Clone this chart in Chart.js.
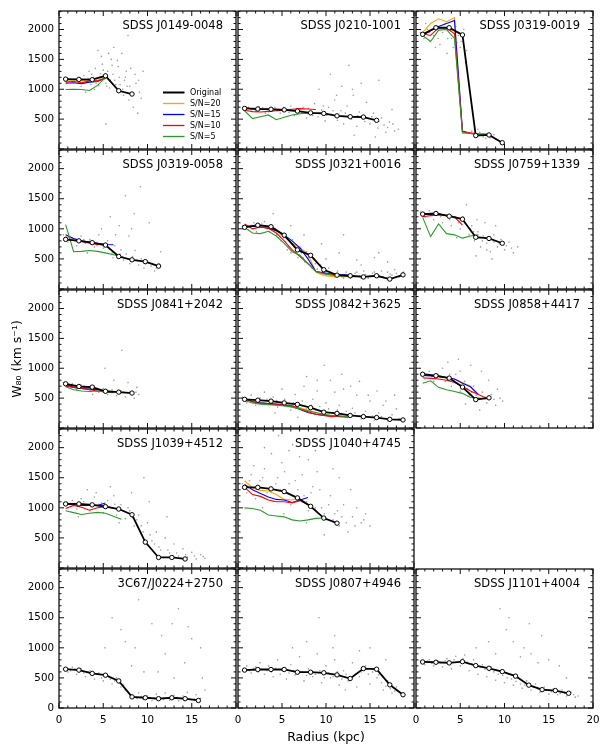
<!DOCTYPE html>
<html>
<head>
<meta charset="utf-8">
<script src="https://cdn.jsdelivr.net/npm/chart.js@4.4.1/dist/chart.umd.min.js"></script>
<style>
  html, body { margin: 0; padding: 0; background: #fff; }
  #page { position: relative; width: 600px; height: 750px; overflow: hidden; background: #fff; }
  #page canvas { position: absolute; }
</style>
</head>
<body>
<div id="page"></div>
<script>
// panel names, in reading order (row 4 / col 3 is empty)
const panelNames = [
  'SDSS J0149-0048', 'SDSS J0210-1001', 'SDSS J0319-0019',
  'SDSS J0319-0058', 'SDSS J0321+0016', 'SDSS J0759+1339',
  'SDSS J0841+2042', 'SDSS J0842+3625', 'SDSS J0858+4417',
  'SDSS J1039+4512', 'SDSS J1040+4745',
  '3C67/J0224+2750', 'SDSS J0807+4946', 'SDSS J1101+4004'
];
const panelSlots = [[0,0],[0,1],[0,2],[1,0],[1,1],[1,2],[2,0],[2,1],[2,2],[3,0],[3,1],[4,0],[4,1],[4,2]];

const legendLabels = ['Original', 'S/N=20', 'S/N=15', 'S/N=10', 'S/N=5'];
const seriesColors = ['#000000', '#ffa500', '#0000ff', '#ff0000', '#2a9a2a'];

// axis ticks
const xTickValues = [0, 5, 10, 15, 20];
const yTickValues = [0, 500, 1000, 1500, 2000];

// radius bins (kpc)
const origRadius = [0.75, 2.25, 3.75, 5.25, 6.75, 8.25, 9.75, 11.25, 12.75, 14.25, 15.75, 17.25, 18.75];
const snRadius = [0.75, 1.65, 2.55, 3.45, 4.35, 5.25, 6.15, 7.05, 7.95, 8.85, 9.75, 10.65, 11.55, 12.45, 13.35, 14.25];

// W80 (km/s), original data
const wOriginal = [
  [1170, 1165, 1160, 1225, 975, 920],
  [680, 670, 665, 655, 635, 605, 595, 555, 540, 535, 480],
  [1920, 2030, 2030, 1910, 225, 235, 105],
  [825, 800, 770, 730, 540, 485, 455, 380],
  [1025, 1060, 1035, 895, 650, 560, 320, 230, 220, 200, 220, 165, 235],
  [1245, 1255, 1210, 1160, 860, 840, 760],
  [740, 695, 685, 615, 600, 585],
  [480, 465, 450, 420, 395, 340, 265, 245, 210, 190, 175, 145, 135],
  [900, 875, 835, 685, 475, 505],
  [1065, 1065, 1050, 1020, 980, 885, 430, 175, 175, 150],
  [1340, 1340, 1315, 1270, 1165, 1025, 830, 745],
  [645, 630, 575, 545, 450, 185, 170, 155, 170, 155, 125],
  [630, 640, 640, 640, 595, 595, 585, 550, 490, 655, 645, 385, 220],
  [765, 760, 750, 770, 705, 660, 605, 530, 380, 305, 290, 245]
];

// degraded S/N versions (first 11 panels only)
const wSN20 = [
  [1140, 1140, 1145, 1140, 1150, 1195],
  [690, 670, 665, 660, 655, 650],
  [1950, 2100, 2180, 2130, 2200, 290, 260, 250, 250],
  [870, 830, 800, 770, 750, 740],
  [1050, 1045, 1050, 1020, 960, 870, 760, 690, 580, 280, 220, 210, 210, 205],
  [1250, 1250, 1240, 1230, 1200, 1170],
  [730, 700, 680, 660, 640, 620, 600],
  [480, 450, 430, 410, 400, 390, 370, 340, 300, 250, 220, 210, 200, 190],
  [890, 880, 870, 850, 820, 760, 700, 560],
  [1080, 1070, 1060, 1050, 1040, 1040],
  [1450, 1330, 1290, 1280, 1220, 1140, 1130, 1180]
];
const wSN15 = [
  [1100, 1110, 1095, 1120, 1130, 1190],
  [690, 670, 665, 665, 660, 655, 650],
  [1900, 1980, 2050, 2100, 2150, 300, 260, 250, 245],
  [900, 840, 800, 780, 760, 740, 735],
  [1040, 1040, 1030, 1010, 970, 900, 800, 680, 500, 290, 270, 250, 240, 230],
  [1240, 1240, 1250, 1220, 1200, 1160],
  [720, 680, 660, 650, 640, 620, 600],
  [490, 440, 420, 410, 400, 385, 360, 310, 260, 230, 210, 200, 190, 185],
  [880, 870, 860, 840, 820, 750, 690, 560],
  [1060, 1050, 1040, 1040, 1040, 1080],
  [1390, 1300, 1240, 1180, 1140, 1130, 1090, 1130, 1170]
];
const wSN10 = [
  [1120, 1130, 1110, 1140, 1140, 1180],
  [650, 625, 620, 630, 640, 650, 665, 675, 670, 660],
  [1930, 1900, 2030, 2030, 1930, 290, 270, 250, 240],
  [820, 810, 790, 760, 740, 730],
  [1080, 1000, 1030, 1010, 930, 800, 650, 540, 420, 290, 260, 240, 225, 215],
  [1200, 1220, 1230, 1220, 1200, 1060],
  [700, 680, 660, 640, 620, 610, 600],
  [500, 440, 410, 400, 390, 390, 370, 320, 270, 230, 210, 190, 200, 180],
  [840, 830, 820, 800, 760, 700, 620, 560, 500],
  [990, 1040, 1010, 960, 1000, 1020, 1000],
  [1340, 1220, 1190, 1130, 1100, 1100, 1080, 1120, 1050]
];
const wSN5 = [
  [995, 1000, 995, 980, 1065, 1195],
  [640, 510, 540, 570, 490, 530, 570, 590, 600, 595, 590],
  [1900, 1800, 1990, 2000, 1850, 270, 260, 245, 240],
  [1070, 620, 625, 640, 625, 600, 570, 540],
  [1020, 930, 920, 960, 880, 760, 620, 560, 420, 290, 250, 230, 220, 210, 205],
  [1190, 870, 1080, 920, 900, 845, 880, 900],
  [690, 640, 620, 610, 620, 600, 590],
  [460, 420, 400, 390, 380, 370, 350, 320, 290, 260, 230, 210, 200, 195],
  [750, 790, 680, 640, 610, 580, 510, 500, 490],
  [950, 920, 890, 910, 925, 910, 860, 810],
  [1000, 990, 960, 880, 865, 850, 800, 780, 800, 825, 830]
];

// individual spaxels, flat [r, w, r, w, ...] per panel
const spaxels = [
  [2.2,1150, 2.8,1230, 3.1,1120, 3.4,1300, 3.6,1080, 3.9,1200, 4.1,1350, 4.3,1150, 4.5,1060, 4.7,1260, 4.9,1420, 5.1,1180, 5.3,1100, 5.5,1300, 5.7,1020, 5.9,1500, 6.1,1250, 6.3,1150, 6.5,980, 6.7,1380, 6.9,1080, 7.1,1600, 7.3,900, 7.5,1200, 7.7,1050, 7.9,820, 8.1,1350, 8.4,700, 8.7,1100, 9.1,950, 9.5,1300, 4.4,1650, 6.2,1700, 7.8,1900, 5.3,420, 8.9,600, 3.0,950, 6.6,1480, 4.0,1000, 7.4,1150,
   2.5,1050, 3.3,1180, 3.7,1250, 4.2,1100, 4.6,1200, 5.0,1320, 5.4,1050, 5.8,1150, 6.0,1400, 6.4,1080, 6.8,1200, 7.2,1000, 7.6,1300, 8.0,1050, 8.3,900, 8.6,1250, 9.0,1150, 9.3,850, 5.6,1600, 4.8,1550],
  [1.2,700, 2.0,640, 2.8,690, 3.5,620, 4.2,700, 4.8,600, 5.5,660, 6.0,720, 6.4,560, 7.0,640, 7.4,700, 7.8,520, 8.3,610, 8.7,760, 9.1,540, 9.5,650, 9.9,470, 10.3,700, 10.6,580, 11.0,820, 11.3,480, 11.7,640, 12.0,420, 12.4,720, 12.8,560, 13.1,900, 13.5,380, 13.8,620, 14.2,500, 14.6,780, 15.0,420, 15.4,600, 15.9,350, 16.3,520, 16.8,280, 17.2,450, 17.8,300, 10.5,1250, 12.6,1400, 14.0,1100, 16.0,1150, 9.2,1000, 11.8,1050, 13.2,230, 15.6,200, 17.5,660,
   1.5,660, 2.4,710, 3.1,600, 3.9,680, 4.5,640, 5.2,700, 5.8,610, 6.7,680, 7.2,600, 8.0,680, 8.5,560, 9.3,600, 9.7,720, 10.1,560, 10.8,640, 11.5,560, 12.2,600, 12.9,500, 13.6,560, 14.4,460, 15.2,540, 16.0,460, 16.6,400, 17.0,360, 17.6,420, 18.2,330, 11.2,900, 13.0,1000],
  [0.5,1950, 0.9,1850, 1.3,2000, 1.6,1800, 2.0,1900, 2.4,2050, 2.7,1750, 3.0,1950, 3.3,2100, 3.6,1850, 3.9,1980, 4.2,1700, 4.5,2050, 4.8,1900, 5.1,1800, 5.4,2000, 5.7,1650, 1.1,2100, 2.2,1700, 3.5,1600, 4.6,1780, 5.6,1450, 6.3,300, 6.8,220, 7.2,280, 7.6,200, 8.0,260, 8.4,190, 8.8,240, 7.0,330, 7.9,180,
   0.7,1900, 1.5,1950, 2.5,1850, 3.2,2000, 4.0,1850, 4.4,1950, 5.0,1700, 6.5,260, 7.4,240, 8.2,220],
  [0.5,900, 1.0,780, 1.5,850, 2.0,720, 2.5,880, 3.0,760, 3.5,820, 4.0,700, 4.5,900, 5.0,680, 5.5,800, 6.0,600, 6.3,720, 6.6,520, 7.0,650, 7.3,480, 7.6,580, 8.0,420, 8.3,540, 8.6,640, 9.0,400, 9.3,500, 9.6,350, 10.0,460, 10.4,380, 10.8,300, 11.3,420, 6.8,1050, 8.5,1250, 7.5,1550, 9.2,1700, 10.2,1100, 5.8,1200, 4.8,1000, 11.5,620, 3.2,600, 7.9,880,
   0.8,860, 1.8,800, 2.3,780, 2.8,820, 3.8,760, 4.3,720, 5.3,740, 5.7,660, 6.1,520, 6.9,580, 7.2,540, 7.8,500, 8.8,480, 9.8,420, 10.6,420, 11.0,350, 6.4,900, 8.2,1000],
  [0.5,1050, 1.2,980, 1.8,1100, 2.4,1020, 3.0,1120, 3.6,950, 4.2,1000, 4.6,850, 5.0,920, 5.4,780, 5.8,700, 6.2,820, 6.6,600, 7.0,700, 7.4,520, 7.8,620, 8.2,420, 8.6,500, 9.0,330, 9.4,400, 9.8,280, 10.3,350, 10.8,250, 11.3,300, 11.8,200, 12.3,280, 12.8,180, 13.3,260, 13.8,220, 14.3,300, 14.8,180, 15.3,260, 15.8,200, 16.3,300, 16.8,180, 17.3,250, 17.8,320, 18.3,200, 18.8,280, 4.0,1250, 6.0,1050, 7.5,900, 9.5,750, 11.5,600, 13.5,480, 15.5,520, 17.0,450, 12.0,900,
   0.8,1000, 1.5,1060, 2.1,950, 2.7,1080, 3.3,1000, 3.9,1050, 4.4,900, 4.9,800, 5.2,850, 5.6,650, 6.0,600, 6.4,700, 6.8,520, 7.2,600, 7.6,450, 8.0,520, 8.4,350, 8.8,420, 9.2,260, 9.6,330, 10.0,230, 10.5,280, 11.0,200, 11.5,240, 12.0,180, 12.5,230, 13.0,200, 13.5,280, 14.0,180, 14.5,240, 15.0,210, 15.5,280, 16.0,230, 16.5,200, 17.0,280, 17.5,230, 18.0,260, 18.5,210, 10.0,500, 14.0,400, 16.0,600],
  [0.5,1280, 1.0,1200, 1.5,1300, 2.0,1150, 2.5,1260, 3.0,1100, 3.5,1220, 4.0,1050, 4.5,1180, 5.0,1000, 5.5,1100, 6.0,900, 6.3,1050, 6.6,800, 7.0,950, 7.3,700, 7.6,880, 8.0,760, 8.4,620, 8.8,900, 9.2,700, 9.6,820, 10.0,650, 10.5,780, 11.0,600, 11.5,700, 7.8,1100, 9.0,1050, 5.7,1400, 6.8,550, 8.6,500, 4.6,850,
   0.8,1250, 1.8,1220, 2.8,1200, 3.8,1150, 4.8,1100, 5.3,1200, 6.1,1000, 6.5,950, 7.1,850, 7.5,800, 8.2,850, 8.8,780, 9.4,750, 10.2,720, 10.8,680, 6.9,1150, 8.0,650],
  [0.5,760, 1.0,700, 1.5,740, 2.0,650, 2.5,720, 3.0,680, 3.5,620, 4.0,700, 4.5,600, 5.0,660, 5.5,560, 6.0,640, 6.5,540, 7.0,620, 7.5,520, 8.0,600, 8.5,500, 9.0,560, 6.2,800, 7.8,760, 5.2,1000, 7.1,1300, 3.8,560, 8.8,680,
   0.8,740, 1.8,700, 2.8,700, 3.3,660, 4.3,650, 4.8,620, 5.8,600, 6.8,580, 7.3,600, 8.3,560, 8.7,600],
  [0.5,520, 1.0,420, 1.5,550, 2.0,380, 2.5,500, 3.0,600, 3.5,400, 4.0,520, 4.5,350, 5.0,650, 5.5,420, 6.0,300, 6.5,560, 7.0,380, 7.5,700, 8.0,280, 8.5,480, 9.0,620, 9.5,250, 10.0,420, 10.5,800, 11.0,220, 11.5,380, 12.0,650, 12.5,180, 13.0,330, 13.5,550, 14.0,150, 14.5,280, 15.0,450, 15.5,130, 16.0,250, 16.5,380, 17.0,120, 17.5,220, 18.0,320, 18.5,150, 9.8,1050, 11.8,900, 13.8,780, 7.8,860, 15.8,620, 4.2,250, 6.8,180, 17.8,550,
   0.8,480, 1.3,460, 1.8,440, 2.3,470, 2.8,420, 3.3,480, 3.8,440, 4.4,460, 4.8,400, 5.3,480, 5.8,380, 6.3,420, 6.8,340, 7.3,450, 7.8,320, 8.3,380, 8.8,300, 9.3,360, 9.8,280, 10.3,320, 10.8,260, 11.3,300, 11.8,240, 12.3,280, 12.8,220, 13.3,250, 13.8,200, 14.3,230, 14.8,180, 15.3,200, 15.8,170, 16.3,190, 16.8,160, 17.3,170, 17.8,140, 18.3,160, 11.0,600, 12.8,700, 14.8,550, 16.8,450, 9.0,800],
  [0.5,900, 1.0,820, 1.5,950, 2.0,780, 2.5,900, 3.0,1000, 3.5,820, 4.0,700, 4.5,900, 5.0,620, 5.5,780, 6.0,550, 6.5,700, 7.0,480, 7.5,600, 8.0,420, 8.5,560, 9.0,380, 9.5,500, 6.2,1050, 7.4,950, 4.8,1150, 8.2,800, 5.6,400, 7.2,300, 9.2,650,
   0.8,880, 1.8,860, 2.8,850, 3.3,780, 3.8,900, 4.3,800, 5.3,700, 5.8,650, 6.3,600, 6.8,550, 7.8,520, 8.8,480, 9.8,450, 3.6,1100, 5.0,950],
  [0.5,1080, 1.0,1000, 1.5,1120, 2.0,980, 2.5,1150, 3.0,1040, 3.5,950, 4.0,1180, 4.5,1060, 5.0,920, 5.5,1120, 6.0,1000, 6.5,880, 7.0,1050, 7.5,820, 8.0,950, 8.5,700, 9.0,880, 9.5,600, 10.0,750, 10.5,450, 11.0,600, 11.5,300, 12.0,500, 12.5,250, 13.0,400, 13.5,200, 14.0,320, 14.5,180, 15.0,260, 15.5,150, 16.0,220, 3.2,1300, 5.8,1350, 8.2,1250, 10.2,1100, 12.2,850, 9.6,1500, 2.2,850, 6.8,750, 16.5,160,
   0.8,1050, 1.8,1060, 2.8,1100, 3.8,1020, 4.8,1080, 5.3,1000, 6.3,1060, 7.3,950, 7.8,1000, 8.8,800, 9.3,700, 10.3,550, 10.8,400, 11.3,350, 12.3,300, 13.3,250, 14.3,220, 15.3,200, 16.3,190, 4.2,1250, 6.2,1200],
  [0.5,1400, 1.0,1250, 1.5,1550, 2.0,1150, 2.5,1450, 3.0,1650, 3.5,1300, 4.0,1100, 4.5,1500, 5.0,1750, 5.5,1250, 6.0,1050, 6.5,1450, 7.0,1850, 7.5,1200, 8.0,950, 8.5,1350, 9.0,1600, 9.5,1000, 10.0,800, 10.5,1200, 11.0,900, 11.5,700, 12.0,1050, 12.5,600, 13.0,850, 13.5,1000, 14.0,750, 14.5,900, 3.8,1900, 6.2,2050, 8.8,1950, 10.8,1650, 5.2,900, 7.8,750, 2.8,1000, 9.8,550, 12.8,1300, 4.6,2200, 1.8,1700,
   0.8,1350, 1.3,1450, 2.3,1300, 2.8,1500, 3.3,1250, 4.3,1400, 4.8,1300, 5.3,1600, 5.8,1400, 6.3,1200, 6.8,1300, 7.3,1550, 7.8,1100, 8.3,1250, 8.8,1000, 9.3,1300, 9.8,900, 10.3,1050, 10.8,800, 11.3,950, 11.8,850, 12.3,750, 13.3,700, 14.3,800, 15.0,700, 3.0,2000, 5.8,1950, 8.0,1800, 11.5,1500, 7.0,2150],
  [0.5,650, 1.0,600, 1.5,680, 2.0,560, 2.5,650, 3.0,520, 3.5,620, 4.0,480, 4.5,580, 5.0,450, 5.5,540, 6.0,400, 6.5,500, 7.0,350, 7.5,300, 8.0,220, 8.5,180, 9.0,250, 9.5,140, 10.0,200, 10.5,120, 11.0,230, 11.5,160, 12.0,250, 12.5,130, 13.0,210, 13.5,120, 14.0,200, 14.5,260, 15.0,140, 15.5,220, 16.0,160, 16.5,300, 6.0,1500, 7.5,1100, 9.0,1800, 10.5,1400, 12.0,900, 13.5,1650, 15.0,1150, 8.2,700, 11.2,600, 14.2,750, 16.2,500, 5.2,1000,
   0.8,640, 1.3,620, 1.8,650, 2.3,600, 2.8,580, 3.3,600, 3.8,540, 4.3,560, 4.8,500, 5.3,520, 5.8,480, 6.3,450, 6.8,420, 7.3,380, 7.8,260, 8.3,200, 8.8,160, 9.3,190, 9.8,160, 10.3,170, 10.8,150, 11.3,170, 11.8,140, 12.3,160, 12.8,150, 13.3,170, 13.8,150, 14.3,160, 14.8,140, 15.3,150, 15.8,120, 7.0,1300, 8.6,1000, 10.0,2000, 11.6,1200, 12.8,1400, 14.6,1350, 16.0,1000, 9.6,600, 13.0,500],
  [0.5,620, 1.0,700, 1.5,580, 2.0,680, 2.5,750, 3.0,560, 3.5,700, 4.0,520, 4.5,800, 5.0,620, 5.5,480, 6.0,720, 6.5,550, 7.0,850, 7.5,450, 8.0,650, 8.5,520, 9.0,900, 9.5,420, 10.0,700, 10.5,500, 11.0,800, 11.5,380, 12.0,620, 12.5,450, 13.0,750, 13.5,350, 14.0,600, 14.5,700, 15.0,400, 15.5,650, 16.0,550, 16.5,300, 17.0,450, 17.5,250, 18.0,350, 7.8,1100, 10.8,1000, 13.8,950, 9.2,1500, 12.2,300, 16.8,800,
   0.8,640, 1.3,620, 1.8,660, 2.3,600, 2.8,640, 3.3,620, 3.8,600, 4.3,660, 4.8,560, 5.3,620, 5.8,580, 6.3,620, 6.8,560, 7.3,600, 7.8,540, 8.3,600, 8.8,560, 9.3,620, 9.8,500, 10.3,580, 10.8,520, 11.3,600, 11.8,480, 12.3,560, 12.8,460, 13.3,560, 13.8,520, 14.3,640, 14.8,560, 15.3,600, 15.8,500, 16.3,420, 16.8,360, 17.3,320, 17.8,280, 6.2,1000, 11.0,1200, 15.0,1000],
  [0.5,780, 1.0,720, 1.5,800, 2.0,700, 2.5,780, 3.0,680, 3.5,820, 4.0,650, 4.5,860, 5.0,700, 5.5,880, 6.0,620, 6.5,800, 7.0,560, 7.5,720, 8.0,520, 8.5,680, 9.0,460, 9.5,620, 10.0,420, 10.5,560, 11.0,380, 11.5,500, 12.0,330, 12.5,450, 13.0,300, 13.5,400, 14.0,260, 14.5,350, 15.0,230, 15.5,320, 16.0,220, 16.5,300, 17.0,200, 17.5,260, 18.0,180, 8.2,1100, 10.2,1300, 12.2,1000, 14.2,1200, 9.5,1650, 11.8,850, 13.8,750, 16.2,700, 6.8,1000,
   0.8,760, 1.3,780, 1.8,740, 2.3,790, 2.8,750, 3.3,780, 3.8,740, 4.3,800, 4.8,760, 5.3,820, 5.8,760, 6.3,740, 6.8,700, 7.3,680, 7.8,640, 8.3,620, 8.8,600, 9.3,560, 9.8,540, 10.3,500, 10.8,480, 11.3,440, 11.8,400, 12.3,380, 12.8,360, 13.3,340, 13.8,310, 14.3,300, 14.8,290, 15.3,270, 15.8,260, 16.3,240, 16.8,240, 17.3,230, 17.8,220, 18.3,200, 9.0,900, 11.0,1100, 13.0,900, 15.0,800, 17.0,500, 10.5,1500, 12.8,1400]
];

// plot frame geometry (px)
const PLOT_LEFT = 59, PLOT_TOP = 10, PANEL_W = 178, PANEL_H = 139.6;
const FONT = '"DejaVu Sans", sans-serif';

Chart.defaults.font.family = FONT;
Chart.defaults.color = '#000';

function toXY(xs, ys) {
  return ys.map((v, i) => ({ x: xs[i], y: v }));
}
function pairs(flat) {
  const out = [];
  for (let i = 0; i < flat.length; i += 2) out.push({ x: flat[i], y: flat[i + 1] });
  return out;
}

// frame, inward ticks, panel label and legend
const panelFrame = {
  id: 'panelFrame',
  afterDatasetsDraw(chart, args, opts) {
    const { ctx, chartArea: a } = chart;
    const xs = chart.scales.x, ys = chart.scales.y;
    ctx.save();
    ctx.strokeStyle = '#111';
    ctx.lineWidth = 1;
    ctx.beginPath();
    for (let v = 0; v <= 20; v++) {
      const px = xs.getPixelForValue(v), len = v % 5 === 0 ? 5 : 2.5;
      ctx.moveTo(px, a.bottom); ctx.lineTo(px, a.bottom - len);
      ctx.moveTo(px, a.top); ctx.lineTo(px, a.top + len);
    }
    for (let v = 0; v <= 2300; v += 100) {
      const py = ys.getPixelForValue(v), len = v % 500 === 0 ? 5 : 2.5;
      ctx.moveTo(a.left, py); ctx.lineTo(a.left + len, py);
      ctx.moveTo(a.right, py); ctx.lineTo(a.right - len, py);
    }
    ctx.stroke();
    ctx.lineWidth = 1.3;
    ctx.strokeRect(a.left, a.top, a.right - a.left, a.bottom - a.top);

    ctx.fillStyle = '#000';
    ctx.font = '11.5px ' + FONT;
    ctx.textAlign = 'right';
    ctx.textBaseline = 'middle';
    ctx.fillText(opts.name, a.right - 13, a.top + 15);

    if (opts.legend) {
      ctx.font = '8px ' + FONT;
      ctx.textAlign = 'left';
      legendLabels.forEach((lab, i) => {
        const ly = a.top + 81.5 + i * 11;
        ctx.strokeStyle = seriesColors[i];
        ctx.lineWidth = i === 0 ? 2 : 1.3;
        ctx.beginPath();
        ctx.moveTo(a.left + 104, ly); ctx.lineTo(a.left + 125.5, ly);
        ctx.stroke();
        ctx.fillText(lab, a.left + 131, ly);
      });
    }
    ctx.restore();
  }
};

const page = document.getElementById('page');

function makePanel(p) {
  const [row, col] = panelSlots[p];
  const left = PLOT_LEFT + col * PANEL_W, top = PLOT_TOP + row * PANEL_H;
  const right = left + PANEL_W, bottom = top + PANEL_H;
  const cx0 = col === 0 ? 0 : Math.floor(left - 4);
  const cx1 = col === 2 ? 600 : Math.ceil(right + 4);
  const cy0 = Math.floor(top - 4);
  const cy1 = row === 4 ? 750 : Math.ceil(bottom + 4);
  const showX = row === 4, showY = col === 0;

  const canvas = document.createElement('canvas');
  canvas.width = cx1 - cx0;
  canvas.height = cy1 - cy0;
  canvas.style.left = cx0 + 'px';
  canvas.style.top = cy0 + 'px';
  canvas.style.width = (cx1 - cx0) + 'px';
  canvas.style.height = (cy1 - cy0) + 'px';
  page.appendChild(canvas);

  const datasets = [{
    label: 'Original', data: toXY(origRadius, wOriginal[p]), order: 0,
    borderColor: seriesColors[0], borderWidth: 1.8,
    pointRadius: 2.2, pointBackgroundColor: '#fff', pointBorderColor: '#000', pointBorderWidth: 1
  }];
  if (p < wSN20.length) {
    [wSN20, wSN15, wSN10, wSN5].forEach((arr, k) => {
      datasets.push({
        label: legendLabels[k + 1], data: toXY(snRadius, arr[p]), order: 4 - k,
        borderColor: seriesColors[k + 1], borderWidth: 1.1, pointRadius: 0
      });
    });
  }
  datasets.push({
    type: 'scatter', label: 'spaxels', data: pairs(spaxels[p]), order: 5,
    pointRadius: 0.8, pointBackgroundColor: '#9a9a9a', pointBorderWidth: 0, showLine: false
  });

  new Chart(canvas, {
    type: 'line',
    data: { datasets },
    options: {
      responsive: false,
      animation: false,
      events: [],
      layout: {
        padding: {
          left: showY ? 0 : left - cx0,
          right: cx1 - right,
          top: top - cy0,
          bottom: showX ? 0 : cy1 - bottom
        }
      },
      plugins: {
        legend: { display: false },
        tooltip: { enabled: false },
        panelFrame: { name: panelNames[p], legend: p === 0 }
      },
      scales: {
        x: {
          type: 'linear', min: 0, max: 20, display: showX,
          grid: { display: false, drawTicks: false }, border: { display: false },
          ticks: {
            autoSkip: false, maxRotation: 0, padding: 6,
            font: { size: 10.3 },
            callback: v => (v === 20 && col < 2) ? '' : String(v)
          },
          title: {
            display: p === 12, text: 'Radius (kpc)', font: { size: 12.5 },
            padding: { top: 0, bottom: 4.5 }
          },
          afterBuildTicks: s => { s.ticks = xTickValues.map(v => ({ value: v })); },
          afterFit: s => {
            if (!showX) return;
            s.height = cy1 - bottom; s.paddingLeft = 0; s.paddingRight = 0;
          }
        },
        y: {
          type: 'linear', min: 0, max: 2310, display: showY,
          grid: { display: false, drawTicks: false }, border: { display: false },
          ticks: {
            autoSkip: false, padding: 5,
            font: { size: 10.3 },
            callback: v => (v > 0 || row === 4) ? String(v) : ''
          },
          title: {
            display: p === 6, text: 'W\u2088\u2080 (km s\u207B\u00B9)', font: { size: 12.5 },
            padding: { top: 10, bottom: 0 }
          },
          afterBuildTicks: s => { s.ticks = yTickValues.map(v => ({ value: v })); },
          afterFit: s => {
            if (!showY) return;
            s.width = left; s.paddingTop = 0; s.paddingBottom = 0;
          }
        }
      }
    },
    plugins: [panelFrame]
  });
}

for (let p = 0; p < panelNames.length; p++) makePanel(p);
</script>
</body>
</html>
